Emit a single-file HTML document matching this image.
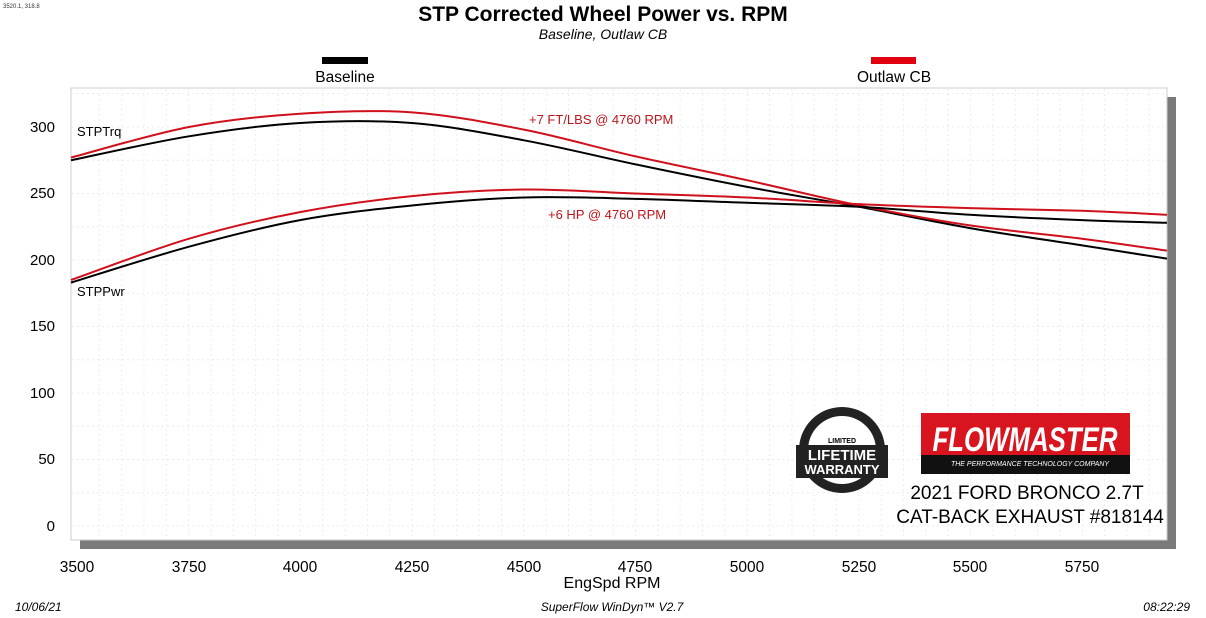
<!DOCTYPE html>
<html><head><meta charset="utf-8"><style>
html,body{margin:0;padding:0;background:#fff;}
svg{display:block;font-family:"Liberation Sans",sans-serif;}
</style></head><body>
<svg id="s" width="1206" height="618" viewBox="0 0 1206 618" xmlns="http://www.w3.org/2000/svg">
<rect width="1206" height="618" fill="#fff"/>
<text x="3" y="8" font-size="6" fill="#333">3520.1, 318.8</text>
<text x="603" y="21" font-size="21" font-weight="bold" text-anchor="middle">STP Corrected Wheel Power vs. RPM</text>
<text x="603" y="39" font-size="14" font-style="italic" text-anchor="middle">Baseline, Outlaw CB</text>
<rect x="322" y="57" width="46" height="7" fill="#000"/>
<text x="345" y="82" font-size="15.5" text-anchor="middle">Baseline</text>
<rect x="871" y="57" width="45" height="7" fill="#e00010"/>
<text x="894" y="82" font-size="15.5" text-anchor="middle">Outlaw CB</text>
<rect x="1167" y="97" width="9" height="452" fill="#7a7a7a"/>
<rect x="80" y="540" width="1096" height="9" fill="#7a7a7a"/>
<rect x="71" y="88" width="1096" height="452" fill="#fff" stroke="#ccc" stroke-width="1"/>
<g id="grid" stroke="#ececec" stroke-width="1" stroke-dasharray="2,3"></g>
<g font-size="15" text-anchor="end">
<text x="55" y="132">300</text><text x="55" y="198">250</text><text x="55" y="265">200</text><text x="55" y="331">150</text><text x="55" y="398">100</text><text x="55" y="464">50</text><text x="55" y="531">0</text>
</g>
<g font-size="15.5" text-anchor="middle">
<text x="77" y="572">3500</text><text x="189" y="572">3750</text><text x="300" y="572">4000</text><text x="412" y="572">4250</text><text x="524" y="572">4500</text><text x="635" y="572">4750</text><text x="747" y="572">5000</text><text x="859" y="572">5250</text><text x="970" y="572">5500</text><text x="1082" y="572">5750</text>
<text x="612" y="588" font-size="16">EngSpd  RPM</text>
</g>
<g id="curves" fill="none" stroke-width="2" stroke-linejoin="round"></g>
<text x="77" y="136" font-size="13">STPTrq</text>
<text x="77" y="296" font-size="13">STPPwr</text>
<text x="529" y="124" font-size="13" fill="#c0141c">+7 FT/LBS @ 4760 RPM</text>
<text x="548" y="219" font-size="13" fill="#c0141c">+6 HP @ 4760 RPM</text>
<circle cx="842" cy="450" r="43" fill="#222"/>
<circle cx="842" cy="450" r="34" fill="#fff"/>
<rect x="796" y="445" width="92" height="33" fill="#222"/>
<text x="842" y="460" font-size="15" font-weight="bold" fill="#fff" text-anchor="middle">LIFETIME</text>
<text x="842" y="474" font-size="13" font-weight="bold" fill="#fff" text-anchor="middle">WARRANTY</text>
<text x="842" y="443" font-size="7" font-weight="bold" text-anchor="middle">LIMITED</text>
<rect x="921" y="413" width="209" height="61" fill="#d8141e"/>
<rect x="921" y="455" width="209" height="19" fill="#111"/>
<text x="1025" y="451" font-size="34" font-weight="bold" font-style="italic" fill="#fff" text-anchor="middle" textLength="185" lengthAdjust="spacingAndGlyphs">FLOWMASTER</text>
<text x="1030" y="466" font-size="7" font-style="italic" fill="#fff" text-anchor="middle">THE PERFORMANCE TECHNOLOGY COMPANY</text>
<text x="1027" y="499" font-size="19" text-anchor="middle">2021 FORD BRONCO 2.7T</text>
<text x="1030" y="523" font-size="19" text-anchor="middle">CAT-BACK EXHAUST #818144</text>
<g font-size="12" font-style="italic">
<text x="15" y="611">10/06/21</text>
<text x="612" y="611" text-anchor="middle">SuperFlow WinDyn™ V2.7</text>
<text x="1190" y="611" text-anchor="end">08:22:29</text>
</g>
</svg>
<script>
var NS="http://www.w3.org/2000/svg";
var g=document.getElementById("grid");
function ln(x1,y1,x2,y2){var l=document.createElementNS(NS,"line");l.setAttribute("x1",x1);l.setAttribute("y1",y1);l.setAttribute("x2",x2);l.setAttribute("y2",y2);g.appendChild(l);}
for(var r=3550;r<6000;r+=50){var x=77+(r-3500)*0.4468;if(x<1166)ln(x,89,x,539);}
for(var v=0;v<=325;v+=25){var y=526-1.33*v;ln(72,y,1166,y);}
var X=[71,189,300,412,524,635,747,859,970,1082,1167];
var rpm=[3500,3750,4000,4250,4500,4750,5000,5250,5500,5750,5950];
var S=[
["#000",[275,293,303,303,290,272,255,240,224,211,201]],
["#d0101c",[277,300,310,311,298,278,260,241,226,216,207]],
["#000",[183,210,230,241,247,246,243,240,234,230,228]],
["#d0101c",[185,216,236,248,253,250,247,242,239,237,234]]];
var c=document.getElementById("curves");
S.forEach(function(s){
 var p=X.map(function(x,i){return [x,526-1.33*s[1][i]];});
 var d="M"+p[0][0]+","+p[0][1];
 for(var i=0;i<p.length-1;i++){
  var p0=p[Math.max(i-1,0)],p1=p[i],p2=p[i+1],p3=p[Math.min(i+2,p.length-1)];
  var c1=[p1[0]+(p2[0]-p0[0])/6,p1[1]+(p2[1]-p0[1])/6];
  var c2=[p2[0]-(p3[0]-p1[0])/6,p2[1]-(p3[1]-p1[1])/6];
  d+=" C"+c1.join(",")+" "+c2.join(",")+" "+p2.join(",");
 }
 var pa=document.createElementNS(NS,"path");pa.setAttribute("d",d);pa.setAttribute("stroke",s[0]);c.appendChild(pa);
});
</script>
</body></html>
